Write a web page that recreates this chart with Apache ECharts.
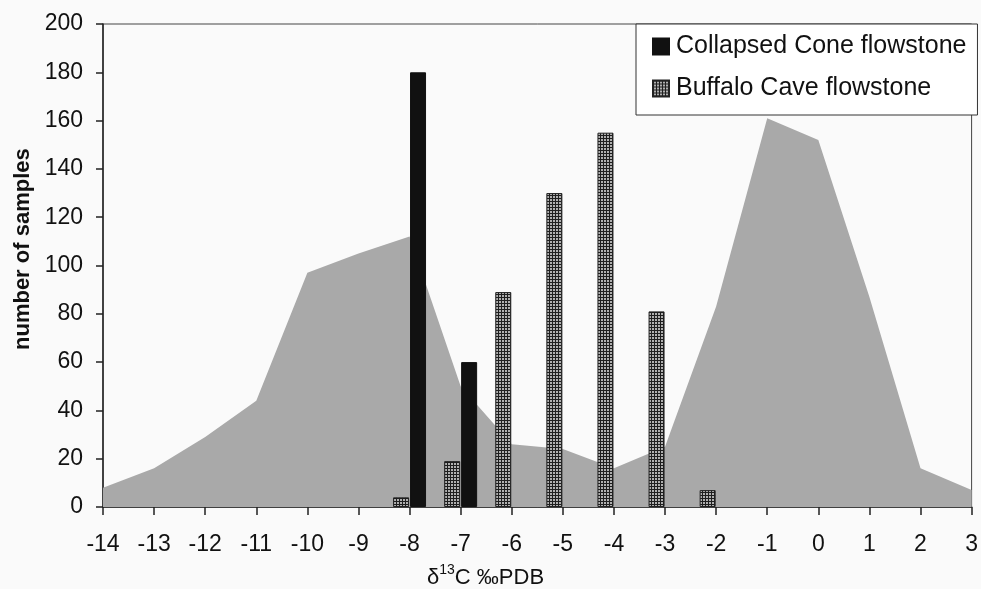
<!DOCTYPE html>
<html>
<head>
<meta charset="utf-8">
<script src="https://cdn.jsdelivr.net/npm/echarts@6/dist/echarts.min.js"></script>
<style>
html,body{margin:0;padding:0;background:#fafafa;}
#chart{width:981px;height:589px;}
</style>
</head>
<body>
<div id="chart"></div>
<script>
// ---- data ----
const xMin = -14, xMax = 3, xStep = 1;
const yMin = 0, yMax = 200, yStep = 20;

// grey plant distribution (delta13C vs relative frequency)
const plantX = [-14, -13, -12, -11, -10, -9, -8, -7, -6, -5, -4, -3, -2, -1, 0, 1, 2, 3];
const plantY = [8, 16, 29, 44, 97, 105, 112, 50, 26, 24, 16, 25, 83, 161, 152, 87, 16, 7];

const collapsedX = [-8, -7];
const collapsedY = [180, 60];

const buffaloX = [-8, -7, -6, -5, -4, -3, -2];
const buffaloY = [4, 19, 89, 130, 155, 81, 7];

const seriesNames = ['Collapsed Cone flowstone', 'Buffalo Cave flowstone'];
const areaLabels = ['C3 Plants', 'C4 Plants'];
const yAxisTitle = 'number of samples';

// ---- build ----
function zip(xs, ys) { return xs.map((x, i) => [x, ys[i]]); }

function makePattern() {
  const c = document.createElement('canvas');
  c.width = 3; c.height = 3;
  const ctx = c.getContext('2d');
  ctx.fillStyle = '#b0b0b0';
  ctx.fillRect(0, 0, 3, 3);
  ctx.fillStyle = '#1e1e1e';
  ctx.fillRect(0, 0, 3, 1);
  ctx.fillRect(0, 0, 1, 3);
  return c;
}
const hatch = { image: makePattern(), repeat: 'repeat' };

const FONT = '"Liberation Sans", Arial, Helvetica, sans-serif';
const chart = echarts.init(document.getElementById('chart'), null, { renderer: 'canvas' });

chart.setOption({
  backgroundColor: '#fafafa',
  animation: false,
  textStyle: { fontFamily: FONT, color: '#111' },
  grid: {
    left: 103, right: 8, top: 24, bottom: 82,
    show: true, borderColor: '#444', borderWidth: 1, backgroundColor: 'transparent'
  },
  xAxis: {
    type: 'value', min: xMin, max: xMax, interval: xStep,
    axisLine: { show: true, onZero: false, lineStyle: { color: '#222', width: 1.5 } },
    axisTick: { show: true, inside: false, length: 8, lineStyle: { color: '#222', width: 1.5 } },
    axisLabel: { fontSize: 23, color: '#111', margin: 26, fontFamily: FONT },
    splitLine: { show: false }
  },
  yAxis: {
    type: 'value', min: yMin, max: yMax, interval: yStep,
    axisLine: { show: true, onZero: false, lineStyle: { color: '#222', width: 1.5 } },
    axisTick: { show: true, inside: false, length: 7, lineStyle: { color: '#222', width: 1.5 } },
    axisLabel: { fontSize: 23, color: '#111', margin: 20, fontFamily: FONT },
    splitLine: { show: false }
  },
  legend: {
    orient: 'vertical',
    left: 636, top: 24,
    data: seriesNames,
    backgroundColor: '#ffffff',
    borderColor: '#333', borderWidth: 1,
    padding: [10, 11, 14, 16],
    itemWidth: 16, itemHeight: 16, itemGap: 17,
    icon: 'rect',
    textStyle: { fontSize: 25, color: '#111', fontFamily: FONT, padding: [0, 0, 0, 2] }
  },
  graphic: [
    {
      type: 'text', x: 12, y: 350, rotation: Math.PI / 2,
      style: { text: yAxisTitle, font: 'bold 22px ' + FONT, fill: '#111' }
    },
    {
      type: 'text', x: 427, y: 563,
      style: {
        text: '{d|δ}{s|13}{d|C ‰PDB}',
        rich: {
          d: { fontSize: 22, fontFamily: FONT, fill: '#111', verticalAlign: 'bottom', lineHeight: 26 },
          s: { fontSize: 14, fontFamily: FONT, fill: '#111', verticalAlign: 'top', lineHeight: 26, padding: [0, 0, 10, 0] }
        }
      }
    },
    {
      type: 'text', x: 305, y: 351,
      style: { text: areaLabels[0], font: 'bold 21px ' + FONT, fill: '#111' }
    },
    {
      type: 'text', x: 725, y: 342,
      style: { text: areaLabels[1], font: 'bold 21px ' + FONT, fill: '#111' }
    }
  ],
  series: [
    {
      type: 'line', name: 'plants',
      data: zip(plantX, plantY),
      showSymbol: false, symbol: 'none',
      lineStyle: { width: 0, color: '#a9a9a9' },
      areaStyle: { color: '#a9a9a9', opacity: 1 },
      z: 1, silent: true
    },
    {
      type: 'bar', name: seriesNames[1],
      data: zip(buffaloX, buffaloY),
      barWidth: 16, barGap: '6%',
      itemStyle: { color: hatch, borderColor: '#222', borderWidth: 1 },
      z: 3
    },
    {
      type: 'bar', name: seriesNames[0],
      data: zip(collapsedX, collapsedY),
      barWidth: 16, barGap: '6%',
      itemStyle: { color: '#111', borderColor: '#111', borderWidth: 1 },
      z: 3
    }
  ]
});
</script>
</body>
</html>
